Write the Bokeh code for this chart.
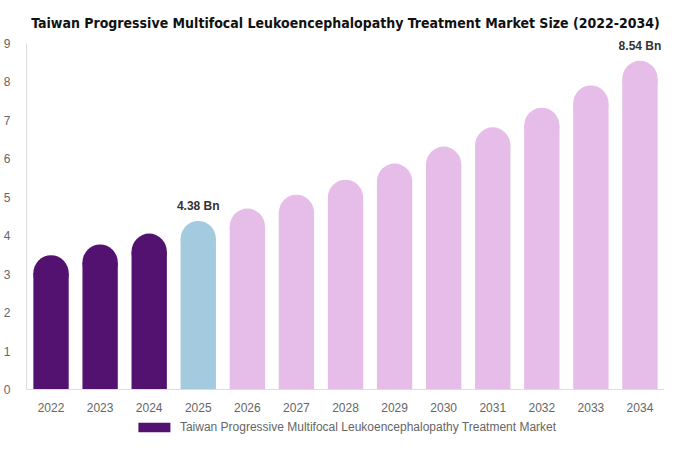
from bokeh.plotting import figure
from bokeh.layouts import column
from bokeh.models import ColumnDataSource, Legend, LegendItem, Range1d
from bokeh.core.properties import value
from bokeh.embed import file_html
from bokeh.resources import INLINE

years = ["2022", "2023", "2024", "2025", "2026", "2027", "2028",
         "2029", "2030", "2031", "2032", "2033", "2034"]
market_size = [3.49, 3.77, 4.05, 4.38, 4.70, 5.06, 5.45,
               5.87, 6.31, 6.81, 7.32, 7.90, 8.54]
label_years = ["2025", "2034"]
label_values = [4.38, 8.54]
y_ticks = [0, 1, 2, 3, 4, 5, 6, 7, 8, 9]
series_name = "Taiwan Progressive Multifocal Leukoencephalopathy Treatment Market"
title_text = "Taiwan Progressive Multifocal Leukoencephalopathy Treatment Market Size (2022-2034)"
base_year = 2025

HIST = "#541270"
BASE = "#a4cadf"
FCST = "#e6bce8"
colors = [HIST if int(y) < base_year else (BASE if int(y) == base_year else FCST) for y in years]

BAR_W = 0.72
CAP = 0.47  # half-height of rounded cap, in data units
src = ColumnDataSource(dict(x=years, top=market_size,
                            body=[v - CAP for v in market_size],
                            color=colors))

p = figure(x_range=years, y_range=Range1d(0, 9.3), width=664, height=420,
           output_backend="svg", toolbar_location=None,
           min_border_left=21, min_border_right=0, min_border_top=31, min_border_bottom=31)
p.outline_line_color = None

r = p.vbar(x="x", top="body", width=BAR_W, source=src, fill_color="color", line_color=None)
p.ellipse(x="x", y="body", width=BAR_W, height=2 * CAP, source=src,
          fill_color="color", line_color=None)

p.text(x=label_years, y=label_values, text=[f"{v:.2f} Bn" for v in label_values],
       text_align="center", text_baseline="bottom", y_offset=-8,
       text_font=value("Liberation Sans"), text_font_style="bold",
       text_font_size="12px", text_color="#333333")

p.title.text = title_text
p.title.align = "center"
p.title.text_font = "DejaVu Sans Condensed"
p.title.text_font_style = "bold"
p.title.text_font_size = "14px"
p.title.text_color = "#111111"
p.title.standoff = 2

p.xgrid.visible = False
p.ygrid.visible = False
for ax in (p.xaxis[0], p.yaxis[0]):
    ax.axis_line_color = "#dddddd"
    ax.major_tick_line_color = None
    ax.minor_tick_line_color = None
    ax.major_label_text_font = "Liberation Sans"
    ax.major_label_text_font_size = "12px"
    ax.major_label_text_color = "#666666"
p.yaxis.ticker = y_ticks
p.yaxis.bounds = (y_ticks[0], y_ticks[-1])
p.yaxis.major_label_standoff = 10
p.xaxis.major_label_standoff = 7

# legend strip below the chart
lg = figure(width=664, height=14, x_range=(0, 1), y_range=(0, 1),
            output_backend="svg", toolbar_location=None,
            min_border_left=0, min_border_right=0, min_border_top=0, min_border_bottom=0)
lg.axis.visible = False
lg.grid.visible = False
lg.outline_line_color = None
key = lg.vbar(x=[-5], top=[-5], width=0.5, fill_color=HIST, line_color=None)
legend = Legend(items=[LegendItem(label=series_name, renderers=[key], index=0)],
                orientation="horizontal", location="center",
                glyph_width=40, glyph_height=12, label_standoff=6,
                label_text_font="Liberation Sans", label_text_font_size="12px",
                label_text_color="#666666", border_line_color=None,
                margin=0, padding=0, background_fill_alpha=0)
lg.add_layout(legend, "center")

layout = column(p, lg, spacing=0)
open("out.html", "w").write(file_html(layout, INLINE))
